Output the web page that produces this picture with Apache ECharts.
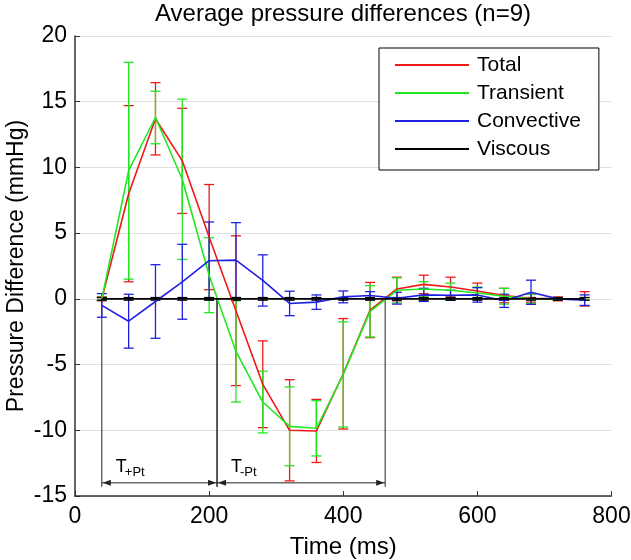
<!DOCTYPE html>
<html><head><meta charset="utf-8">
<script src="https://cdn.jsdelivr.net/npm/echarts@6/dist/echarts.min.js"></script>
<style>html,body{margin:0;padding:0;background:#fff}#c{width:631px;height:560px}</style>
</head><body><div id="c"></div>
<script>
const time = [40,80,120,160,200,240,280,320,360,400,440,480,520,560,600,640,680,720,760];
const total        = [0, 8.0, 13.7, 10.5, 4.7, -0.9, -6.5, -10.0, -10.05, -5.7, -0.85, 0.75, 1.1, 0.9, 0.6, 0.25, 0.05, 0, 0];
const totalErr     = [0.15, 6.7, 2.75, 4.0, 4.0, 5.7, 3.3, 3.85, 2.4, 4.2, 2.1, 0.9, 0.7, 0.75, 0.6, 0.55, 0.3, 0.15, 0.55];
const transient    = [0, 9.75, 13.8, 9.1, 1.8, -4.0, -7.85, -9.7, -9.85, -5.75, -0.95, 0.65, 0.75, 0.65, 0.45, 0.2, 0, 0, 0];
const transientErr = [0.1, 8.25, 2.0, 6.1, 2.85, 3.85, 2.35, 3.0, 2.1, 4.0, 1.95, 0.95, 0.55, 0.55, 0.45, 0.6, 0.35, 0.1, 0.1];
const convective    = [-0.5, -1.7, -0.2, 1.3, 2.9, 2.95, 1.4, -0.35, -0.25, 0.15, 0.25, 0.05, 0.3, 0.27, 0.3, -0.15, 0.5, 0, -0.1];
const convectiveErr = [0.9, 2.05, 2.8, 2.85, 2.95, 2.85, 1.95, 0.93, 0.55, 0.45, 0.3, 0.45, 0.5, 0.38, 0.55, 0.5, 0.92, 0.05, 0.4];
const viscous    = [0,0,0,0,0,0,0,0,0,0,0,0,0,0,0,0,0,0,0];
const viscousErr = [0.1,0.1,0.1,0.1,0.1,0.1,0.1,0.1,0.1,0.1,0.1,0.1,0.1,0.1,0.1,0.1,0.1,0.1,0.1];

const xTicks = {min:0, max:800, interval:200};
const yTicks = {min:-15, max:20, interval:5};

const phaseStart = [40, 211.8];
const phaseEnd   = [211.8, 462.5];
const phaseMain  = ['T', 'T'];
const phaseSub   = ['+Pt', '-Pt'];
const arrowLevel = -14;
const guideTop = 0;
const guideBottom = -14.3;

const FONT = 'Liberation Sans, Arial, sans-serif';
const C = {total:'#f01818', transient:'#22e822', convective:'#2020e0', viscous:'#000000'};

function errSeries(name, mean, err, color) {
  return {
    type:'custom', name: name + ' err', silent:true, animation:false,
    data: time.map((t,i)=>[t, mean[i]-err[i], mean[i]+err[i]]),
    encode:{x:0, y:[1,2]},
    renderItem(params, api) {
      const x = api.value(0);
      const lo = api.coord([x, api.value(1)]);
      const hi = api.coord([x, api.value(2)]);
      const w = 5;
      const style = {stroke: color, lineWidth: 1.3, fill: null};
      return {type:'group', children:[
        {type:'line', shape:{x1:lo[0],y1:lo[1],x2:hi[0],y2:hi[1]}, style},
        {type:'line', shape:{x1:lo[0]-w,y1:lo[1],x2:lo[0]+w,y2:lo[1]}, style},
        {type:'line', shape:{x1:hi[0]-w,y1:hi[1],x2:hi[0]+w,y2:hi[1]}, style}
      ]};
    }
  };
}
function lineSeries(name, vals, color, width) {
  return {
    type:'line', name, data: time.map((t,i)=>[t, vals[i]]),
    symbol:'none', showSymbol:false, animation:false, silent:true,
    lineStyle:{color, width}, itemStyle:{color}
  };
}

const annot = {
  type:'custom', name:'annot', silent:true, animation:false,
  data: phaseStart.map((s,i)=>[s, phaseEnd[i]]),
  encode:{x:[0,1]},
  renderItem(params, api) {
    const s = api.value(0), e = api.value(1);
    const sTop = api.coord([s, guideTop]), sBot = api.coord([s, guideBottom]);
    const eTop = api.coord([e, guideTop]), eBot = api.coord([e, guideBottom]);
    const a0 = api.coord([s, arrowLevel]), a1 = api.coord([e, arrowLevel]);
    const col = '#222';
    const ls = {stroke: col, lineWidth: 1, fill:null};
    const ah = 8, hw = 3;
    return {type:'group', children:[
      {type:'line', shape:{x1:sTop[0],y1:sTop[1],x2:sBot[0],y2:sBot[1]}, style:ls},
      {type:'line', shape:{x1:eTop[0],y1:eTop[1],x2:eBot[0],y2:eBot[1]}, style:ls},
      {type:'line', shape:{x1:a0[0],y1:a0[1],x2:a1[0],y2:a1[1]}, style:ls},
      {type:'polygon', shape:{points:[[a0[0]+1,a0[1]],[a0[0]+1+ah,a0[1]-hw],[a0[0]+1+ah,a0[1]+hw]]}, style:{fill:col}},
      {type:'polygon', shape:{points:[[a1[0]-1,a1[1]],[a1[0]-1-ah,a1[1]-hw],[a1[0]-1-ah,a1[1]+hw]]}, style:{fill:col}},
      {type:'text', x:a0[0]+14, y:a0[1]-15.5, style:{text:phaseMain[params.dataIndex], font:'18px '+FONT, fill:'#000', align:'left', verticalAlign:'middle'}},
      {type:'text', x:a0[0]+23, y:a0[1]-10, style:{text:phaseSub[params.dataIndex], font:'13px '+FONT, fill:'#000', align:'left', verticalAlign:'middle'}}
    ]};
  }
};

const chart = echarts.init(document.getElementById('c'));
chart.setOption({
  backgroundColor:'#fff',
  animation:false,
  graphic:[{type:'text', x:343, y:14, style:{text:'Average pressure differences (n=9)', font:'24px '+FONT, fill:'#000', align:'center', verticalAlign:'middle'}}],
  grid:{left:75, right:19.5, top:36, bottom:64, outerBoundsMode:'none', containLabel:false},
  legend:{
    orient:'vertical', left:379, top:48,
    data:['Total','Transient','Convective','Viscous'],
    itemWidth:74, itemHeight:14, itemGap:4,
    padding:[5,18,9,15],
    backgroundColor:'#fff', borderColor:'#000', borderWidth:1, borderRadius:0,
    itemStyle:{opacity:0},
    textStyle:{fontFamily:FONT, fontSize:21, color:'#000', lineHeight:24, padding:[0,0,0,3]},
    selectedMode:false
  },
  xAxis:{
    type:'value', min:xTicks.min, max:xTicks.max, interval:xTicks.interval,
    name:'Time (ms)', nameLocation:'middle', nameGap:39, nameMoveOverlap:false,
    nameTextStyle:{fontFamily:FONT, fontSize:24, color:'#000'},
    axisLine:{show:true, onZero:false, lineStyle:{color:'#333', width:1.5}},
    axisTick:{show:true, inside:true, length:5, lineStyle:{color:'#333'}},
    axisLabel:{fontFamily:FONT, fontSize:23, color:'#000', margin:9},
    splitLine:{show:false}
  },
  yAxis:{
    type:'value', min:yTicks.min, max:yTicks.max, interval:yTicks.interval,
    name:'Pressure Difference (mmHg)', nameLocation:'middle', nameGap:47, nameMoveOverlap:false,
    nameTextStyle:{fontFamily:FONT, fontSize:23, color:'#000'},
    axisLine:{show:true, onZero:false, lineStyle:{color:'#333', width:1.5}},
    axisTick:{show:true, inside:true, length:5, lineStyle:{color:'#333'}},
    axisLabel:{fontFamily:FONT, fontSize:23, color:'#000', margin:8},
    splitLine:{show:true, lineStyle:{color:'#e0e0e0', width:1}}
  },
  series:[
    annot,
    errSeries('Total', total, totalErr, C.total),
    lineSeries('Total', total, C.total, 1.6),
    errSeries('Transient', transient, transientErr, C.transient),
    lineSeries('Transient', transient, C.transient, 1.6),
    errSeries('Convective', convective, convectiveErr, C.convective),
    lineSeries('Convective', convective, C.convective, 1.6),
    errSeries('Viscous', viscous, viscousErr, C.viscous),
    lineSeries('Viscous', viscous, C.viscous, 1.8)
  ]
});
</script></body></html>
